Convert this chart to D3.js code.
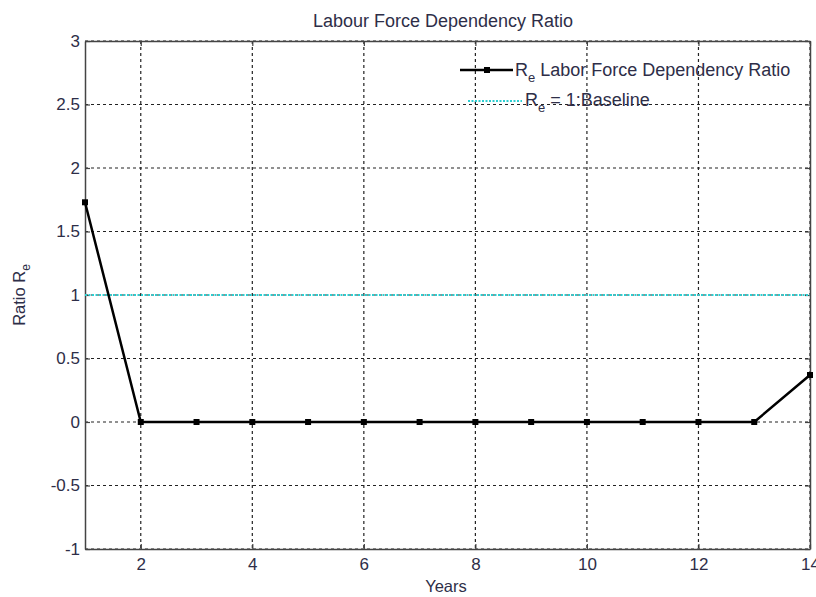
<!DOCTYPE html>
<html>
<head>
<meta charset="utf-8">
<script src="https://cdn.jsdelivr.net/npm/d3@7"></script>
<style>
  body { margin: 0; background: #fff; }
  text { font-family: "Liberation Sans", Arial, sans-serif; fill: #2e2e48; }
</style>
</head>
<body>
<svg id="chart" width="816" height="597"></svg>
<script>
// chart values
const years = [1, 2, 3, 4, 5, 6, 7, 8, 9, 10, 11, 12, 13, 14];
const ratioRe = [1.73, 0, 0, 0, 0, 0, 0, 0, 0, 0, 0, 0, 0, 0.37];
const baseline = 1;
const xTicks = [2, 4, 6, 8, 10, 12, 14];
const yTicks = [-1, -0.5, 0, 0.5, 1, 1.5, 2, 2.5, 3];

const margin = { top: 41, right: 6, bottom: 48, left: 85 };
const width = 816 - margin.left - margin.right;
const height = 597 - margin.top - margin.bottom;

const svg = d3.select("#chart");
const g = svg.append("g")
  .attr("transform", "translate(" + margin.left + "," + margin.top + ")");

const x = d3.scaleLinear().domain([1, 14]).range([0, width]);
const y = d3.scaleLinear().domain([-1, 3]).range([height, 0]);

// grid
g.append("g").selectAll("line")
  .data(xTicks)
  .enter().append("line")
  .attr("x1", d => x(d)).attr("x2", d => x(d))
  .attr("y1", 0).attr("y2", height)
  .attr("stroke", "#222").attr("stroke-width", 1.2)
  .attr("stroke-dasharray", "3,3");

g.append("g").selectAll("line")
  .data(yTicks)
  .enter().append("line")
  .attr("x1", 0).attr("x2", width)
  .attr("y1", d => y(d)).attr("y2", d => y(d))
  .attr("stroke", "#222").attr("stroke-width", 1.2)
  .attr("stroke-dasharray", "3,3");

// axes
g.append("g")
  .attr("transform", "translate(0," + height + ")")
  .call(d3.axisBottom(x).tickValues(xTicks).tickFormat(d3.format("d")).tickSizeInner(-5).tickSizeOuter(0).tickPadding(9));
g.append("g")
  .call(d3.axisLeft(y).tickValues(yTicks).tickFormat(d => d).tickSizeInner(-5).tickSizeOuter(0).tickPadding(5));
g.append("g")
  .call(d3.axisTop(x).tickValues(xTicks).tickFormat("").tickSizeInner(-5).tickSizeOuter(0));
g.append("g")
  .attr("transform", "translate(" + width + ",0)")
  .call(d3.axisRight(y).tickValues(yTicks).tickFormat("").tickSizeInner(-5).tickSizeOuter(0));

g.selectAll(".domain").attr("stroke", "#444").attr("stroke-width", 1.5);
g.selectAll(".tick line").attr("stroke", "#444").attr("stroke-width", 1.2);
g.selectAll(".tick text").style("font-size", "17px").attr("fill", "#2e2e48");

// baseline
g.append("line")
  .attr("x1", x(1)).attr("x2", x(14))
  .attr("y1", y(baseline)).attr("y2", y(baseline))
  .attr("stroke", "#2ccfd2").attr("stroke-width", 2)
  .attr("stroke-dasharray", "2,1.5");

// series
const pts = years.map((d, i) => [d, ratioRe[i]]);
g.append("path")
  .datum(pts)
  .attr("fill", "none")
  .attr("stroke", "#000").attr("stroke-width", 2.5)
  .attr("d", d3.line().x(d => x(d[0])).y(d => y(d[1])));

g.selectAll("rect.mk")
  .data(pts)
  .enter().append("rect")
  .attr("class", "mk")
  .attr("x", d => x(d[0]) - 3).attr("y", d => y(d[1]) - 3)
  .attr("width", 6).attr("height", 6)
  .attr("fill", "#000");

// title and labels
svg.append("text")
  .attr("x", 443).attr("y", 27)
  .attr("text-anchor", "middle")
  .style("font-size", "18px")
  .text("Labour Force Dependency Ratio");

svg.append("text")
  .attr("x", 446).attr("y", 592)
  .attr("text-anchor", "middle")
  .style("font-size", "16.5px")
  .text("Years");

const yl = svg.append("text")
  .attr("transform", "translate(25," + (margin.top + y(1)) + ") rotate(-90)")
  .attr("text-anchor", "middle")
  .style("font-size", "16.5px");
yl.append("tspan").text("Ratio R");
yl.append("tspan").attr("dy", 5).style("font-size", "12px").text("e");

// legend
const lg = svg.append("g");
lg.append("line")
  .attr("x1", 460).attr("x2", 513).attr("y1", 70).attr("y2", 70)
  .attr("stroke", "#000").attr("stroke-width", 2.5);
lg.append("rect")
  .attr("x", 484).attr("y", 67).attr("width", 6).attr("height", 6).attr("fill", "#000");
const t1 = lg.append("text").attr("x", 515).attr("y", 76).style("font-size", "18px");
t1.append("tspan").text("R");
t1.append("tspan").attr("dy", 6).style("font-size", "13px").text("e");
t1.append("tspan").attr("dy", -6).text(" Labor Force Dependency Ratio");

lg.append("line")
  .attr("x1", 468).attr("x2", 522).attr("y1", 101).attr("y2", 101)
  .attr("stroke", "#2ccfd2").attr("stroke-width", 2)
  .attr("stroke-dasharray", "2,1.5");
const t2 = lg.append("text").attr("x", 525).attr("y", 106).style("font-size", "18px");
t2.append("tspan").text("R");
t2.append("tspan").attr("dy", 6).style("font-size", "13px").text("e");
t2.append("tspan").attr("dy", -6).text(" = 1:Baseline");
</script>
</body>
</html>
